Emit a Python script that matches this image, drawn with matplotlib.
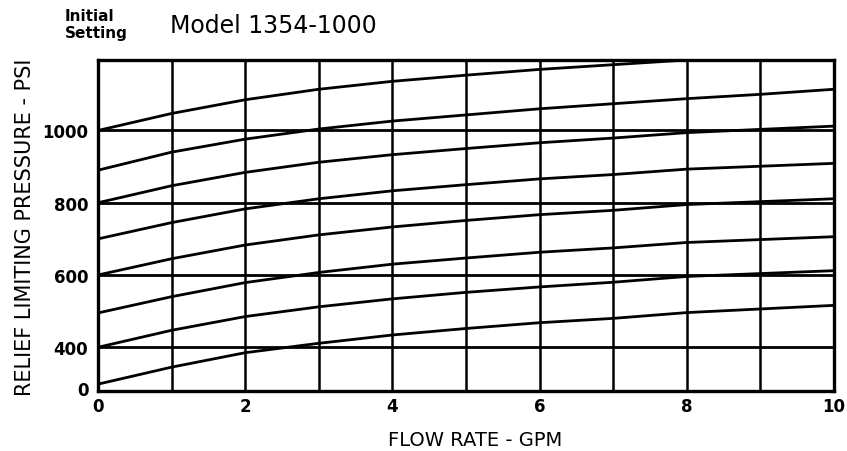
import matplotlib
matplotlib.use("Agg")
import matplotlib.pyplot as plt

# ---- data ----
flow_gpm = [0, 1, 2, 3, 4, 5, 6, 7, 8, 9, 10]

curve_1000 = [1000, 1047, 1085, 1114, 1136, 1153, 1169, 1182, 1195, 1205, 1215]
curve_900 = [890, 940, 976, 1004, 1026, 1043, 1060, 1074, 1088, 1100, 1114]
curve_800 = [800, 847, 884, 912, 933, 950, 966, 979, 994, 1003, 1012]
curve_700 = [700, 745, 783, 811, 833, 850, 866, 878, 893, 901, 909]
curve_600 = [600, 645, 683, 711, 733, 751, 767, 779, 795, 803, 811]
curve_500 = [495, 540, 579, 607, 630, 647, 663, 675, 690, 698, 706]
curve_400 = [400, 447, 485, 512, 534, 552, 567, 580, 596, 604, 612]
curve_300 = [298, 345, 385, 411, 434, 452, 468, 480, 496, 506, 516]

curves = [curve_1000, curve_900, curve_800, curve_700,
          curve_600, curve_500, curve_400, curve_300]

h_grid = [400, 600, 800, 1000]
v_grid = [1, 2, 3, 4, 5, 6, 7, 8, 9]

x_ticks = [0, 2, 4, 6, 8, 10]
x_tick_labels = ["0", "2", "4", "6", "8", "10"]
y_ticks = [287, 400, 600, 800, 1000]
y_tick_labels = ["0", "400", "600", "800", "1000"]

title = "Model 1354-1000"
corner_label = "Initial\nSetting"
x_label = "FLOW RATE - GPM"
y_label = "RELIEF LIMITING PRESSURE - PSI"

# ---- figure ----
W, H = 847, 452
fig = plt.figure(figsize=(W / 100, H / 100), dpi=100)
ax = fig.add_axes([98 / W, 1 - 392 / H, (834 - 98) / W, (392 - 61) / H])

ax.set_xlim(0, 10)
ax.set_ylim(279, 1195)

for yv in h_grid:
    ax.axhline(yv, color="black", lw=2.0, zorder=2)
for xv in v_grid:
    ax.axvline(xv, color="black", lw=1.8, zorder=2)

for c in curves:
    ax.plot(flow_gpm, c, color="black", lw=2.0, solid_capstyle="round",
            solid_joinstyle="round", zorder=3)

for s in ax.spines.values():
    s.set_linewidth(2.4)
    s.set_color("black")
    s.set_zorder(4)

ax.set_xticks(x_ticks)
ax.set_xticklabels(x_tick_labels, fontsize=12, fontweight="bold")
ax.set_yticks(y_ticks)
ax.set_yticklabels(y_tick_labels, fontsize=12, fontweight="bold")
ax.tick_params(axis="x", length=0, pad=4)
ax.tick_params(axis="y", length=0, pad=7)

fig.text(475 / W, 1 - 441 / H, x_label, ha="center", va="center", fontsize=14)
fig.text(25 / W, 1 - 227 / H, y_label, rotation=90, ha="center", va="center",
         fontsize=15)

fig.text(170 / W, 1 - 26 / H, title, ha="left", va="center", fontsize=17)
fig.text(65 / W, 1 - 25 / H, corner_label, ha="left", va="center",
         fontsize=11, fontweight="bold", linespacing=1.2)

fig.savefig("out.png", dpi=100, facecolor="white")
